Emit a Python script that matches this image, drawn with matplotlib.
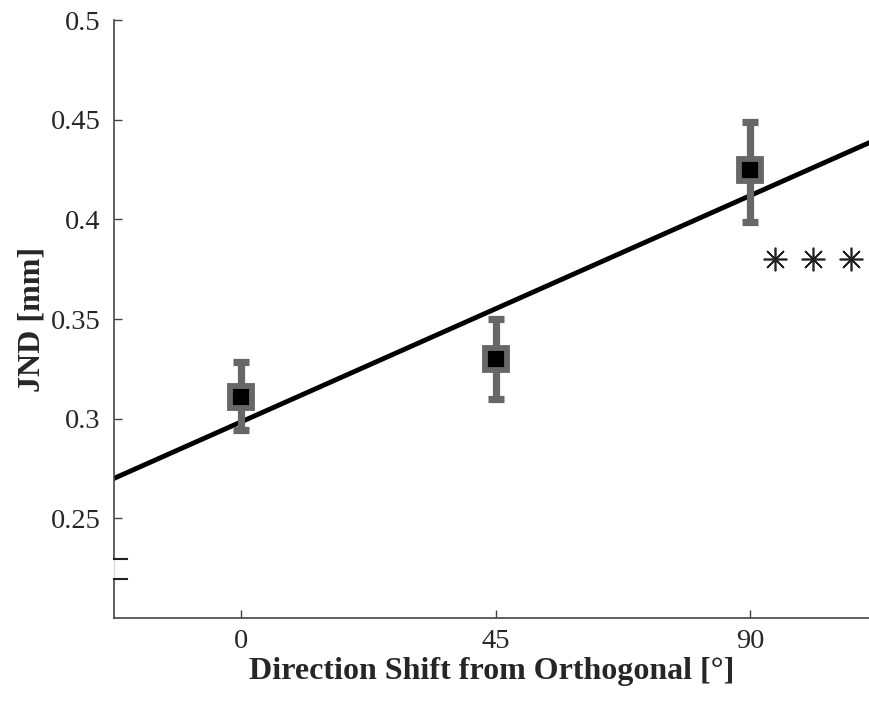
import numpy as np
import matplotlib
matplotlib.use("Agg")
import matplotlib.pyplot as plt
from matplotlib.transforms import blended_transform_factory

# data
shift = [0, 45, 90]
jnd = [0.311, 0.330, 0.4245]
err_lo = [0.0165, 0.020, 0.026]
err_hi = [0.0175, 0.020, 0.0245]
sig_x = [94.4, 101.1, 107.9]
sig_y = [0.38, 0.38, 0.38]
xticks = [0, 45, 90]
yticks = [0.25, 0.3, 0.35, 0.4, 0.45, 0.5]
ytick_labels = ["0.25", "0.3", "0.35", "0.4", "0.45", "0.5"]

plt.rcParams['font.family'] = ['Liberation Serif', 'DejaVu Serif']

fig = plt.figure(figsize=(8.69, 7.02), dpi=100)
ax = fig.add_axes([114 / 869, 1 - 618 / 702, 1 - 114 / 869, (618 - 20) / 702])

xlim = (-22.5, 111.0)
ax.set_xlim(*xlim)
ax.set_ylim(0.2, 0.5)

# linear fit through the three means
p = np.polyfit(shift, jnd, 1)
xf = np.array(xlim)
ax.plot(xf, np.polyval(p, xf), color='black', lw=3.5, zorder=2)

grey = '#676767'
ax.errorbar(shift, jnd, yerr=[err_lo, err_hi], fmt='none', ecolor=grey,
            elinewidth=5.2, capsize=5.8, capthick=5.2, zorder=3)
ax.plot(shift, jnd, ls='none', marker='s', ms=15.5, mfc='black', mec=grey,
        mew=4.2, zorder=4)

ax.plot(sig_x, sig_y, ls='none', marker=(8, 2, 0), ms=17, mec='#222222',
        mew=1.2, color='#222222', clip_on=False)

for s in ['top', 'right', 'left']:
    ax.spines[s].set_visible(False)
ax.spines['bottom'].set_color('#444444')
ax.spines['bottom'].set_linewidth(1.2)

# left axis with a break near the bottom
tr = blended_transform_factory(ax.transAxes, ax.transData)
brk_lo, brk_hi = 0.2197, 0.2295
ax.plot([0, 0], [0.2, brk_lo], color='#444444', lw=1.2, transform=tr, clip_on=False)
ax.plot([0, 0], [brk_hi, 0.5], color='#444444', lw=1.2, transform=tr, clip_on=False)
ax.plot([0, 0], [brk_lo, brk_hi], color='#dddddd', lw=1.0, transform=tr, clip_on=False)
ax.plot([0, 13 / 755], [brk_lo, brk_lo], color='#222222', lw=1.5, transform=tr, clip_on=False)
ax.plot([0, 13 / 755], [brk_hi, brk_hi], color='#222222', lw=1.5, transform=tr, clip_on=False)

ax.set_xticks(xticks)
ax.set_yticks(yticks)
ax.set_yticklabels(ytick_labels)
ax.tick_params(axis='both', direction='in', length=6, width=1.0, color='#444444',
               labelsize=20.5, labelcolor='#262626')
ax.tick_params(axis='y', pad=9.5)
ax.tick_params(axis='x', pad=8)

ax.set_xlabel('Direction Shift from Orthogonal [°]', fontsize=23, fontweight='bold',
              color='#262626', labelpad=2)
ax.set_ylabel('JND [mm]', fontsize=23, fontweight='bold', color='#262626', labelpad=3)

fig.savefig('out.png', dpi=100)
